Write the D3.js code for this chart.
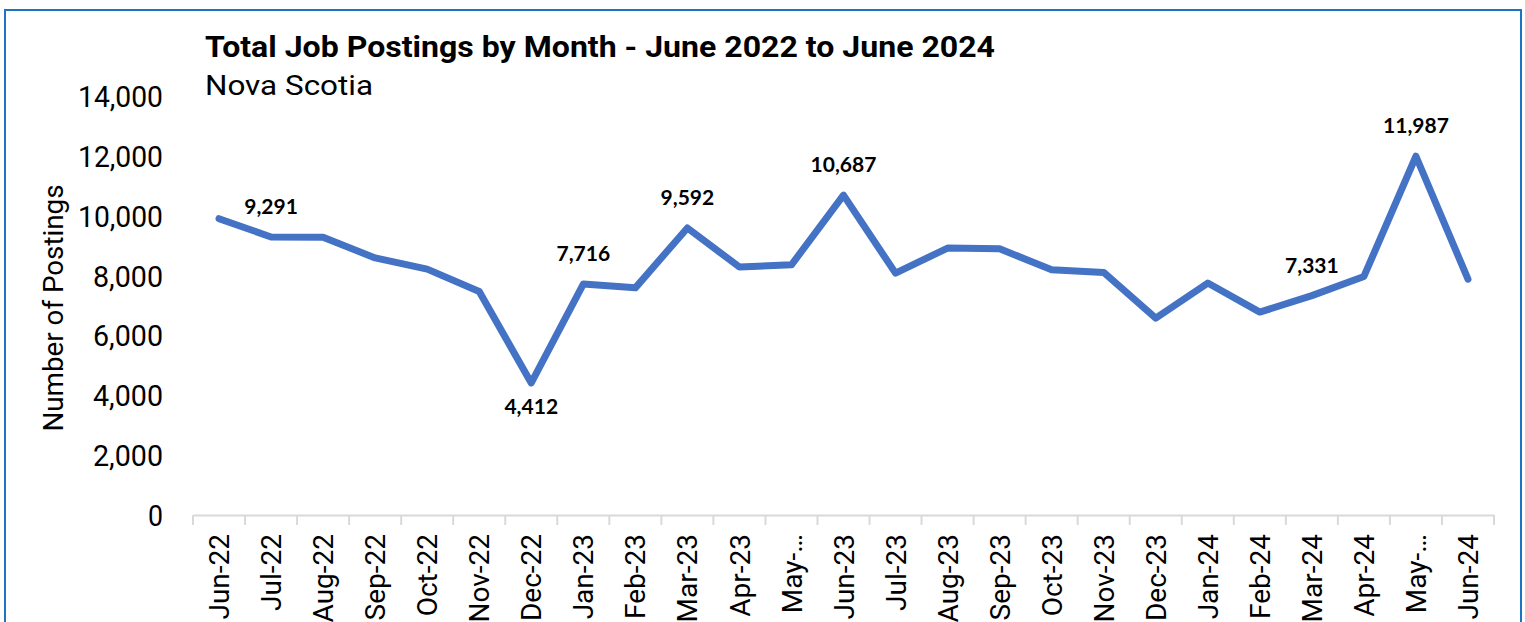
<!DOCTYPE html>
<html>
<head>
<meta charset="utf-8">
<script src="https://cdn.jsdelivr.net/npm/d3@7"></script>
<style>
  body { margin: 0; background: #ffffff; }
  svg { display: block; }
</style>
</head>
<body>
<div id="grafica"></div>
<script>
// datos
meses = ['Jun-22', 'Jul-22', 'Aug-22', 'Sep-22', 'Oct-22', 'Nov-22', 'Dec-22',
         'Jan-23', 'Feb-23', 'Mar-23', 'Apr-23', 'May-23', 'Jun-23', 'Jul-23',
         'Aug-23', 'Sep-23', 'Oct-23', 'Nov-23', 'Dec-23', 'Jan-24', 'Feb-24',
         'Mar-24', 'Apr-24', 'May-24', 'Jun-24']
postings = [9900, 9291, 9280, 8590, 8215, 7470, 4412,
            7716, 7590, 9592, 8284, 8360, 10687, 8080,
            8920, 8895, 8195, 8105, 6580, 7750, 6780,
            7331, 7970, 11987, 7880]
// etiquetas visibles: indice y si va arriba o abajo
etiquetas = [1, 6, 7, 9, 12, 21, 23]
etiquetasAbajo = [6]
yTicks = [0, 2000, 4000, 6000, 8000, 10000, 12000, 14000]

ancho_total = 1525
alto_total  = 622
margin = { left: 193, right: 31, top: 96, bottom: 107 }

ancho = ancho_total - margin.left - margin.right
alto  = alto_total - margin.top - margin.bottom

svg = d3
        .select('#grafica')
        .append('svg')
        .attr('width', ancho_total)
        .attr('height', alto_total)

svg
  .append('rect')
  .attr('x', 5)
  .attr('y', 10)
  .attr('width', 1516)
  .attr('height', 700)
  .attr('fill', 'none')
  .attr('stroke', '#1C74C6')
  .attr('stroke-width', 2)

svg
  .append('text')
  .attr('x', 205)
  .attr('y', 57)
  .attr('font-family', 'Roboto')
  .attr('font-weight', 'bold')
  .attr('font-size', '30px')
  .attr('textLength', 790)
  .attr('lengthAdjust', 'spacingAndGlyphs')
  .attr('fill', '#000')
  .text('Total Job Postings by Month - June 2022 to June 2024')

svg
  .append('text')
  .attr('x', 205)
  .attr('y', 95)
  .attr('font-family', 'Roboto')
  .attr('font-size', '27px')
  .attr('textLength', 168)
  .attr('lengthAdjust', 'spacingAndGlyphs')
  .attr('fill', '#000')
  .text('Nova Scotia')

g = svg
      .append('g')
      .attr('transform', 'translate(' + margin.left + ',' + margin.top + ')')

x = d3.scaleBand()
      .domain(meses)
      .range([0, ancho])

y = d3.scaleLinear()
      .domain([0, 14000])
      .range([alto, 0])

// eje Y, solo etiquetas
yGroup = g.append('g')
yGroup.call(
  d3.axisLeft(y)
    .tickValues(yTicks)
    .tickFormat(d3.format(',d'))
    .tickSize(0)
    .tickPadding(30)
)
yGroup.select('.domain').remove()
yGroup.selectAll('text')
  .attr('font-family', 'Roboto')
  .attr('font-size', '29px')
  .attr('fill', '#000')
  .attr('dy', '0.36em')
  .each(function (d) {
    w = d === 0 ? 15 : (d >= 10000 ? 85 : 70)
    d3.select(this).attr('textLength', w).attr('lengthAdjust', 'spacingAndGlyphs')
  })

svg
  .append('text')
  .attr('transform', 'translate(63,' + (margin.top + 212) + ') rotate(-90)')
  .attr('text-anchor', 'middle')
  .attr('font-family', 'Roboto')
  .attr('font-size', '28px')
  .attr('textLength', 247)
  .attr('lengthAdjust', 'spacingAndGlyphs')
  .attr('fill', '#000')
  .text('Number of Postings')

// eje X con marcas entre categorias
xGroup = g
          .append('g')
          .attr('transform', `translate(0, ${alto})`)
xGroup.call(d3.axisBottom(x).tickSize(0).tickFormat(''))
xGroup.select('.domain')
  .attr('stroke', '#d9d9d9')
  .attr('stroke-width', 2)

xGroup.selectAll('line.sep')
  .data(d3.range(meses.length + 1))
  .enter()
  .append('line')
  .attr('class', 'sep')
  .attr('x1', (i) => i * x.step())
  .attr('x2', (i) => i * x.step())
  .attr('y1', 0)
  .attr('y2', 10)
  .attr('stroke', '#d9d9d9')
  .attr('stroke-width', 2)

xGroup.selectAll('text.mes')
  .data(meses)
  .enter()
  .append('text')
  .attr('class', 'mes')
  .attr('transform', (d) => `translate(${x(d) + x.bandwidth() / 2}, 19) rotate(-90)`)
  .attr('text-anchor', 'end')
  .attr('dy', '0.36em')
  .attr('font-family', 'Roboto')
  .attr('font-size', '28px')
  .attr('fill', '#000')
  .text((d) => d.startsWith('May') ? 'May-…' : d)

datos = meses.map((m, i) => ({ mes: m, valor: postings[i], i: i }))

linea = d3.line()
          .x((d) => x(d.mes) + x.bandwidth() / 2)
          .y((d) => y(d.valor))

g
  .append('path')
  .datum(datos)
  .attr('d', linea)
  .attr('fill', 'none')
  .attr('stroke', '#4472C4')
  .attr('stroke-width', 7)
  .attr('stroke-linejoin', 'round')
  .attr('stroke-linecap', 'round')

g.selectAll('text.valor')
  .data(datos.filter((d) => etiquetas.includes(d.i)))
  .enter()
  .append('text')
  .attr('class', 'valor')
  .attr('x', (d) => x(d.mes) + x.bandwidth() / 2)
  .attr('y', (d) => y(d.valor) + (etiquetasAbajo.includes(d.i) ? 31 : -23))
  .attr('text-anchor', 'middle')
  .attr('font-family', 'Lato')
  .attr('font-weight', 'bold')
  .attr('font-size', '21px')
  .attr('fill', '#000')
  .text((d) => d3.format(',d')(d.valor))
</script>
</body>
</html>
